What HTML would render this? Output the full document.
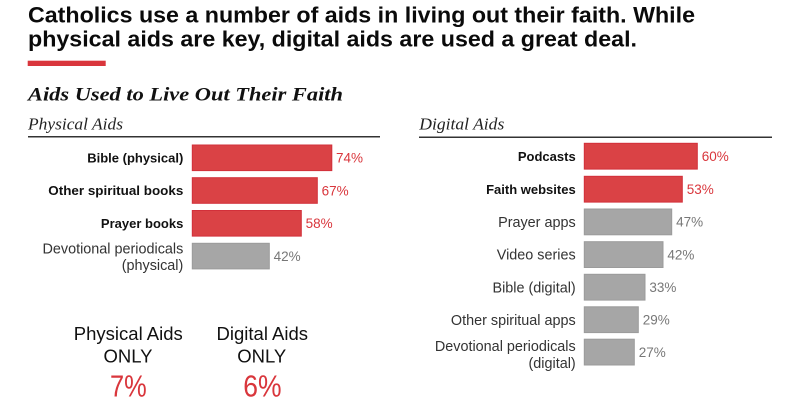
<!DOCTYPE html>
<html>
<head>
<meta charset="utf-8">
<style>
html,body{margin:0;padding:0;background:#fff;}
svg{display:block;}
</style>
</head>
<body>
<svg width="800" height="403" viewBox="0 0 800 403" xmlns="http://www.w3.org/2000/svg">
<rect width="800" height="403" fill="#ffffff"/>
<!-- Title -->
<g font-family="Liberation Sans, sans-serif" font-weight="bold" font-size="22" fill="#0a0a0a">
<text x="28" y="22.7" textLength="667" lengthAdjust="spacingAndGlyphs">Catholics use a number of aids in living out their faith. While</text>
<text x="28" y="46.7" textLength="609" lengthAdjust="spacingAndGlyphs">physical aids are key, digital aids are used a great deal.</text>
</g>
<rect x="27.7" y="60.7" width="78" height="5.3" fill="#d9363c"/>
<!-- Subtitle -->
<text x="28" y="100.7" font-family="Liberation Serif, serif" font-style="italic" font-weight="bold" font-size="19" fill="#111" textLength="315" lengthAdjust="spacingAndGlyphs">Aids Used to Live Out Their Faith</text>
<!-- Section headers -->
<g font-family="Liberation Serif, serif" font-style="italic" font-size="17" fill="#222">
<text x="28" y="129.5" textLength="95" lengthAdjust="spacingAndGlyphs">Physical Aids</text>
<text x="419.3" y="129.5" textLength="85" lengthAdjust="spacingAndGlyphs">Digital Aids</text>
</g>
<line x1="28" y1="136.7" x2="380" y2="136.7" stroke="#333" stroke-width="1.5"/>
<line x1="419" y1="137.2" x2="772" y2="137.2" stroke="#333" stroke-width="1.5"/>

<!-- Left bars -->
<g stroke-width="1">
<rect x="192.3" y="145" width="139.5" height="25.6" fill="#da4245" stroke="#d2303a"/>
<rect x="192.3" y="177.7" width="125" height="25.6" fill="#da4245" stroke="#d2303a"/>
<rect x="192.3" y="210.5" width="109" height="25.6" fill="#da4245" stroke="#d2303a"/>
<rect x="192.3" y="243.3" width="77" height="25.6" fill="#a6a6a6" stroke="#9b9b9b"/>
</g>
<g font-family="Liberation Sans, sans-serif" font-weight="bold" font-size="13" fill="#111" text-anchor="end">
<text x="183.3" y="162.5">Bible (physical)</text>
<text x="183.3" y="195.2" textLength="135" lengthAdjust="spacingAndGlyphs">Other spiritual books</text>
<text x="183.3" y="228">Prayer books</text>
</g>
<g font-family="Liberation Sans, sans-serif" font-size="14.4" fill="#333" text-anchor="end">
<text x="183.3" y="253.4">Devotional periodicals</text>
<text x="183.3" y="270.1">(physical)</text>
</g>
<g font-family="Liberation Sans, sans-serif" font-size="13.5">
<text x="336" y="162.6" fill="#d9363c">74%</text>
<text x="321.6" y="195.3" fill="#d9363c">67%</text>
<text x="305.6" y="228.1" fill="#d9363c">58%</text>
<text x="273.6" y="260.9" fill="#777">42%</text>
</g>

<!-- Right bars -->
<g stroke-width="1">
<rect x="584.3" y="143.3" width="113" height="25.8" fill="#da4245" stroke="#d2303a"/>
<rect x="584.3" y="176.3" width="98" height="25.8" fill="#da4245" stroke="#d2303a"/>
<rect x="584.3" y="209" width="87.4" height="25.8" fill="#a6a6a6" stroke="#9b9b9b"/>
<rect x="584.3" y="241.7" width="78.7" height="25.8" fill="#a6a6a6" stroke="#9b9b9b"/>
<rect x="584.3" y="274.3" width="60.7" height="25.8" fill="#a6a6a6" stroke="#9b9b9b"/>
<rect x="584.3" y="306.8" width="54" height="25.8" fill="#a6a6a6" stroke="#9b9b9b"/>
<rect x="584.3" y="339.2" width="50" height="25.8" fill="#a6a6a6" stroke="#9b9b9b"/>
</g>
<g font-family="Liberation Sans, sans-serif" font-weight="bold" font-size="13" fill="#111" text-anchor="end">
<text x="575.7" y="160.9">Podcasts</text>
<text x="575.7" y="193.9">Faith websites</text>
</g>
<g font-family="Liberation Sans, sans-serif" font-size="14.4" fill="#333" text-anchor="end">
<text x="575.7" y="227">Prayer apps</text>
<text x="575.7" y="259.7">Video series</text>
<text x="575.7" y="292.3">Bible (digital)</text>
<text x="575.7" y="324.8">Other spiritual apps</text>
<text x="575.7" y="350.8">Devotional periodicals</text>
<text x="575.7" y="367.8">(digital)</text>
</g>
<g font-family="Liberation Sans, sans-serif" font-size="13.5">
<text x="701.7" y="161" fill="#d9363c">60%</text>
<text x="686.7" y="194" fill="#d9363c">53%</text>
<text x="676.1" y="226.7" fill="#777">47%</text>
<text x="667.4" y="259.4" fill="#777">42%</text>
<text x="649.4" y="292" fill="#777">33%</text>
<text x="642.7" y="324.5" fill="#777">29%</text>
<text x="638.7" y="356.9" fill="#777">27%</text>
</g>

<!-- Bottom stats -->
<g font-family="Liberation Sans, sans-serif" font-size="18.5" fill="#111" text-anchor="middle">
<text x="128.3" y="340">Physical Aids</text>
<text x="128" y="362.7">ONLY</text>
<text x="262.3" y="340">Digital Aids</text>
<text x="261.7" y="362.7">ONLY</text>
</g>
<g font-family="Liberation Sans, sans-serif" font-size="31" fill="#d9363c">
<text x="110" y="396.7" textLength="36.7" lengthAdjust="spacingAndGlyphs">7%</text>
<text x="243.3" y="396.7" textLength="38.3" lengthAdjust="spacingAndGlyphs">6%</text>
</g>
</svg>
</body>
</html>
